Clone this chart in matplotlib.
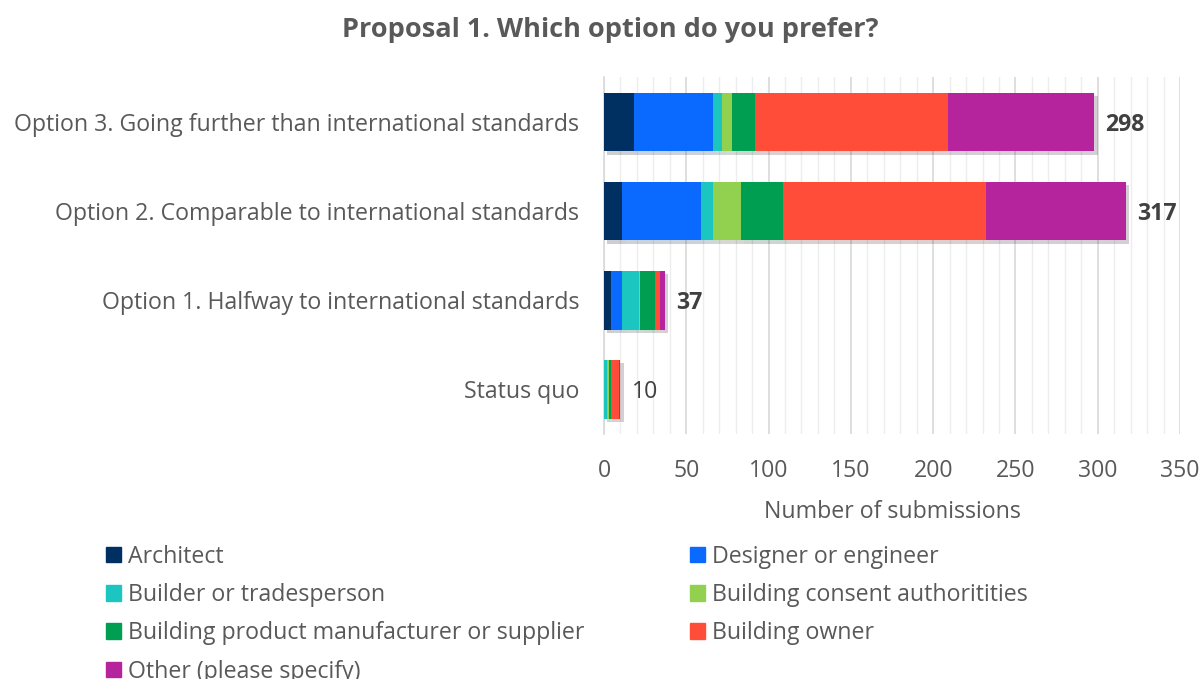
import matplotlib.pyplot as plt
import matplotlib.patheffects as pe
from matplotlib.patches import Patch
from matplotlib.ticker import MultipleLocator
import numpy as np

plt.rcParams['font.family'] = ['Open Sans', 'DejaVu Sans']

options = ['Status quo',
           'Option 1. Halfway to international standards',
           'Option 2. Comparable to international standards',
           'Option 3. Going further than international standards']

groups = ['Architect', 'Designer or engineer', 'Builder or tradesperson',
          'Building consent authoritities',
          'Building product manufacturer or supplier', 'Building owner',
          'Other (please specify)']
colors = ['#002F61', '#0A69FF', '#1CC6C0', '#92D050', '#009E50',
          '#FF4D3A', '#B5249C']

# submissions per group, one value per option (status quo .. option 3)
architect = [0, 4, 11, 18]
designer = [0, 7, 48, 48]
builder = [2, 10, 7, 6]
consent = [1, 1, 17, 6]
manufacturer = [1, 9, 26, 14]
owner = [5, 3, 123, 117]
other = [1, 3, 85, 89]
totals = [10, 37, 317, 298]

series = [architect, designer, builder, consent, manufacturer, owner, other]

FS = 16.7

fig = plt.figure(figsize=(12.02, 6.79), dpi=100)
ax = fig.add_axes([0.5025, 0.361, 0.4792, 0.525])

y = np.arange(len(options))
left = np.zeros(len(options))
shadow = [pe.SimplePatchShadow(offset=(2.5, -2.5), alpha=0.2), pe.Normal()]
for vals, c, name in zip(series, colors, groups):
    bars = ax.barh(y, vals, left=left, height=0.66, color=c, label=name,
                   zorder=3)
    for b in bars:
        b.set_path_effects(shadow)
    left += np.array(vals)

for i, t in enumerate(totals):
    ax.annotate(str(t), (left[i], y[i]), xytext=(8, -2),
                textcoords='offset points', va='center', ha='left',
                fontsize=FS, color='#404040',
                fontweight='normal' if t < 20 else 'bold')

ax.set_xlim(0, 350)
ax.set_ylim(-0.5, 3.5)
ax.xaxis.set_major_locator(MultipleLocator(50))
ax.xaxis.set_minor_locator(MultipleLocator(10))
ax.grid(axis='x', which='major', color='#D9D9D9', lw=1.2, zorder=0)
ax.grid(axis='x', which='minor', color='#EDEDED', lw=1.0, zorder=0)
ax.set_axisbelow(True)
for s in ['top', 'right', 'bottom']:
    ax.spines[s].set_visible(False)
ax.spines['left'].set_color('#D9D9D9')
ax.spines['left'].set_linewidth(1.2)

ax.set_yticks(y)
ax.set_yticklabels(options)
ax.tick_params(axis='y', length=0, pad=18, labelsize=FS,
               labelcolor='#595959')
ax.tick_params(axis='x', which='both', length=0, pad=18, labelsize=FS,
               labelcolor='#595959')
ax.set_xlabel('Number of submissions', fontsize=FS, color='#595959',
              labelpad=12)

fig.text(0.508, 0.956, 'Proposal 1. Which option do you prefer?',
         ha='center', va='center', fontsize=19.5, fontweight='bold',
         color='#595959')

handles = [Patch(color=c) for c in colors]
leg_kw = dict(frameon=False, fontsize=FS, handlelength=0.65,
              handleheight=0.65, handletextpad=0.3, labelspacing=0.62,
              labelcolor='#595959', borderpad=0, borderaxespad=0)
fig.legend([handles[i] for i in (0, 2, 4, 6)],
           [groups[i] for i in (0, 2, 4, 6)],
           loc='upper left', bbox_to_anchor=(0.088, 0.198), **leg_kw)
fig.legend([handles[i] for i in (1, 3, 5)],
           [groups[i] for i in (1, 3, 5)],
           loc='upper left', bbox_to_anchor=(0.574, 0.198), **leg_kw)

fig.savefig('out.png', dpi=100)
